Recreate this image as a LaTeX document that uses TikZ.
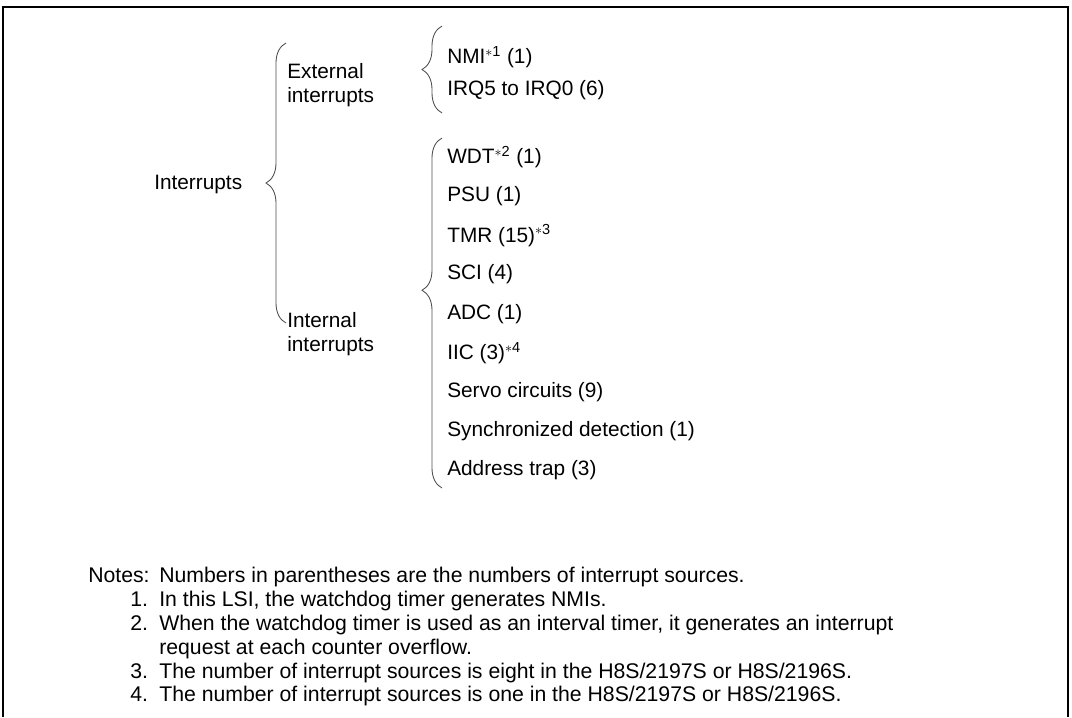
\documentclass[tikz,border=0pt]{standalone}
\usepackage{fontspec}
\setmainfont{Liberation Sans}
\usetikzlibrary{decorations.pathreplacing,positioning}
\newcommand{\fnmark}[1]{\textsuperscript{$\ast$#1}}

\begin{document}
\begin{tikzpicture}[x=0.025cm,y=-0.025cm,
  lbl/.style={anchor=west,inner sep=0pt,font=\fontsize{14.8pt}{17.3pt}\selectfont},
  grp/.style={lbl,align=left},
  note/.style={anchor=base west,inner sep=0pt,font=\fontsize{15.1pt}{18pt}\selectfont},
  brc/.style={decorate,decoration={brace,amplitude=0.5cm},line width=0.6pt,black!70},
  frm/.style={line width=1.5pt}
]
  \useasboundingbox (0,0) rectangle (1072,717);
  \draw[frm] (3,717) -- (3,7) -- (1068,7) -- (1068,717);

  % tree of interrupt sources
  \node[lbl] (root) at (154,184) {Interrupts};
  \node[grp] (ext) at (287,85) {External\\interrupts};
  \node[grp] (int) at (287,334) {Internal\\interrupts};

  \node[lbl] (nmi) at (447,57) {NMI\fnmark{1} (1)};
  \node[lbl] (irq) at (447,90) {IRQ5 to IRQ0 (6)};

  \foreach \txt [count=\i from 0] in {WDT\fnmark{2} (1),PSU (1),TMR (15)\fnmark{3},SCI (4),ADC (1),IIC (3)\fnmark{4},Servo circuits (9),Synchronized detection (1),Address trap (3)}
    \node[lbl] (src\i) at (447,{157+39.2*\i}) {\txt};

  % braces
  \coordinate (rt) at (286,43);
  \coordinate (rb) at (286,323);
  \coordinate (et) at (442,26);
  \coordinate (eb) at (442,113);
  \coordinate (it) at (442,138);
  \coordinate (ib) at (442,488);
  \draw[brc] (rb) -- (rt);
  \draw[brc] (eb) -- (et);
  \draw[brc,decoration={aspect=0.565}] (ib) -- (it);

  % notes
  \node[note] (notes) at (88,582.5) {Notes:};
  \node[note] (n0) at (159,582.5) {Numbers in parentheses are the numbers of interrupt sources.};
  \node[note] (k1) at (130,606.5) {1.};
  \node[note] (n1) at (159,606.5) {In this LSI, the watchdog timer generates NMIs.};
  \node[note] (k2) at (130,630.5) {2.};
  \node[note] (n2) at (159,630.5) {When the watchdog timer is used as an interval timer, it generates an interrupt};
  \node[note] (n2b) at (159,654) {request at each counter overflow.};
  \node[note] (k3) at (130,678) {3.};
  \node[note] (n3) at (159,678) {The number of interrupt sources is eight in the H8S/2197S or H8S/2196S.};
  \node[note] (k4) at (130,701) {4.};
  \node[note] (n4) at (159,701) {The number of interrupt sources is one in the H8S/2197S or H8S/2196S.};
\end{tikzpicture}
\end{document}
